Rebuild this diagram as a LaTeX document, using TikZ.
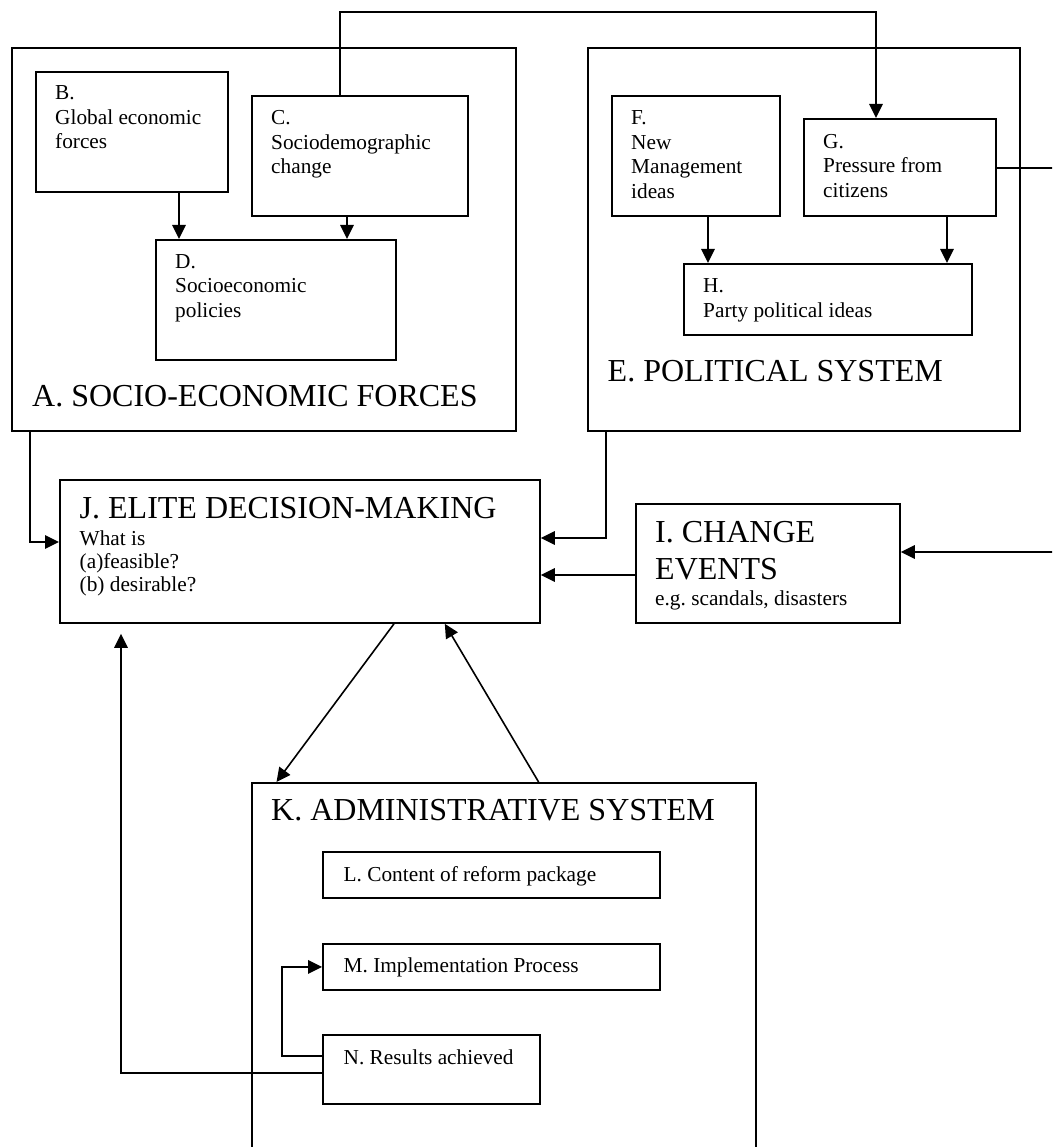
\documentclass[tikz,border=0pt]{standalone}
\usepackage{fontspec}
\setmainfont{Liberation Serif}
\usetikzlibrary{arrows.meta}
% left-aligned block of lines whose baseline is the first line
\newcommand\stack[1]{\begin{tabular}[t]{@{}l@{}}#1\end{tabular}}
\begin{document}
\begin{tikzpicture}[x=1pt,y=-1pt,
  box/.style={draw, line width=1.8pt, rectangle, inner sep=0pt, anchor=north west},
  txt/.style={anchor=base west, inner sep=0pt, font=\fontsize{21.3}{24.4}\selectfont},
  big/.style={anchor=base west, inner sep=0pt, font=\fontsize{32}{36.3}\selectfont},
  arr/.style={line width=1.6pt, -{Triangle[length=14pt,width=13.5pt]}},
]
\useasboundingbox (0,0) rectangle (1052,1147);
\clip (0,0) rectangle (1052,1147);

% ---- boxes ----
\node[box, minimum width=504pt, minimum height=383pt] (A) at (11,47) {};
\node[box, minimum width=192pt, minimum height=120pt] (B) at (35,71) {};
\node[box, minimum width=216pt, minimum height=120pt] (C) at (251,95) {};
\node[box, minimum width=240pt, minimum height=120pt] (D) at (155,239) {};
\node[box, minimum width=432pt, minimum height=383pt] (E) at (587,47) {};
\node[box, minimum width=168pt, minimum height=120pt] (F) at (611,95) {};
\node[box, minimum width=192pt, minimum height=97pt] (G) at (803,118) {};
\node[box, minimum width=288pt, minimum height=71pt] (H) at (683,263) {};
\node[box, minimum width=480pt, minimum height=143pt] (J) at (59,479) {};
\node[box, minimum width=264pt, minimum height=119pt] (I) at (635,503) {};
\node[box, minimum width=504pt, minimum height=440pt] (K) at (251,782) {};
\node[box, minimum width=337pt, minimum height=46pt] (L) at (322,851) {};
\node[box, minimum width=337pt, minimum height=46pt] (M) at (322,943) {};
\node[box, minimum width=217pt, minimum height=69pt] (N) at (322,1034) {};

% ---- texts ----
\node[txt] (Bt) at (55,100) {\stack{B.\\Global economic\\forces}};
\node[txt] (Ct) at (271,125) {\stack{C.\\Sociodemographic\\change}};
\node[txt] (Dt) at (175,268.3) {\stack{D.\\Socioeconomic\\policies}};
\node[big] (At) at (32,406.7) {A. SOCIO-ECONOMIC FORCES};
\node[txt] (Ft) at (631,125) {\stack{F.\\New\\Management\\ideas}};
\node[txt] (Gt) at (823,148.3) {\stack{G.\\Pressure from\\citizens}};
\node[txt] (Ht) at (703,292.7) {\stack{H.\\Party political ideas}};
\node[big] (Et) at (607.5,381) {E. POLITICAL SYSTEM};
\node[big] (Jt) at (79.5,518.3) {J. ELITE DECISION-MAKING};
\node[txt, font=\fontsize{21.3}{23.3}\selectfont] (Jq) at (79.5,545) {\stack{What is\\(a)feasible?\\(b) desirable?}};
\node[big] (It) at (655,542.7) {\stack{I. CHANGE\\EVENTS}};
\node[txt] (Ie) at (655,605.7) {e.g.\ scandals, disasters};
\node[big] (Kt) at (271,820) {K. ADMINISTRATIVE SYSTEM};
\node[txt] (Lt) at (343.5,881) {L. Content of reform package};
\node[txt] (Mt) at (343.5,972.3) {M. Implementation Process};
\node[txt] (Nt) at (343.5,1064) {N. Results achieved};

% ---- routing points ----
\coordinate (bd) at (179,0);
\coordinate (cd) at (347,0);
\coordinate (t1) at (340,12);
\coordinate (t2) at (876,12);
\coordinate (fh) at (708,0);
\coordinate (gh) at (947,0);
\coordinate (gi) at (0,168);
\coordinate (ri) at (1064,552);
\coordinate (aj) at (30,542);
\coordinate (ej) at (606,538);
\coordinate (ij) at (0,575);
\coordinate (jk1) at (394,0);
\coordinate (jk2) at (276.5,0);
\coordinate (kj1) at (538.6,0);
\coordinate (kj2) at (444.8,0);
\coordinate (nm) at (282,1056);
\coordinate (nj) at (121,1073);

% ---- connectors ----
\draw[arr] (B.south -| bd) -- (D.north -| bd);
\draw[arr] (C.south -| cd) -- (D.north -| cd);
\draw[arr] (C.north -| t1) -- (t1) -- (t2) -- (G.north -| t2);
\draw[arr] (F.south -| fh) -- (H.north -| fh);
\draw[arr] (G.south -| gh) -- (H.north -| gh);
\draw[arr] (G.east |- gi) -- (ri |- gi) -- (ri) -- (I.east |- ri);
\draw[arr] (A.south -| aj) -- (aj) -- (J.west |- aj);
\draw[arr] (E.south -| ej) -- (ej) -- (J.east |- ej);
\draw[arr] (I.west |- ij) -- (J.east |- ij);
\draw[arr] (J.south -| jk1) -- (K.north -| jk2);
\draw[arr] (K.north -| kj1) -- (J.south -| kj2);
\draw[arr] (N.west |- nm) -- (nm) |- (M.west);
\draw[arr, shorten >=10pt] (N.west |- nj) -- (nj) -- (J.south -| nj);
\end{tikzpicture}
\end{document}
